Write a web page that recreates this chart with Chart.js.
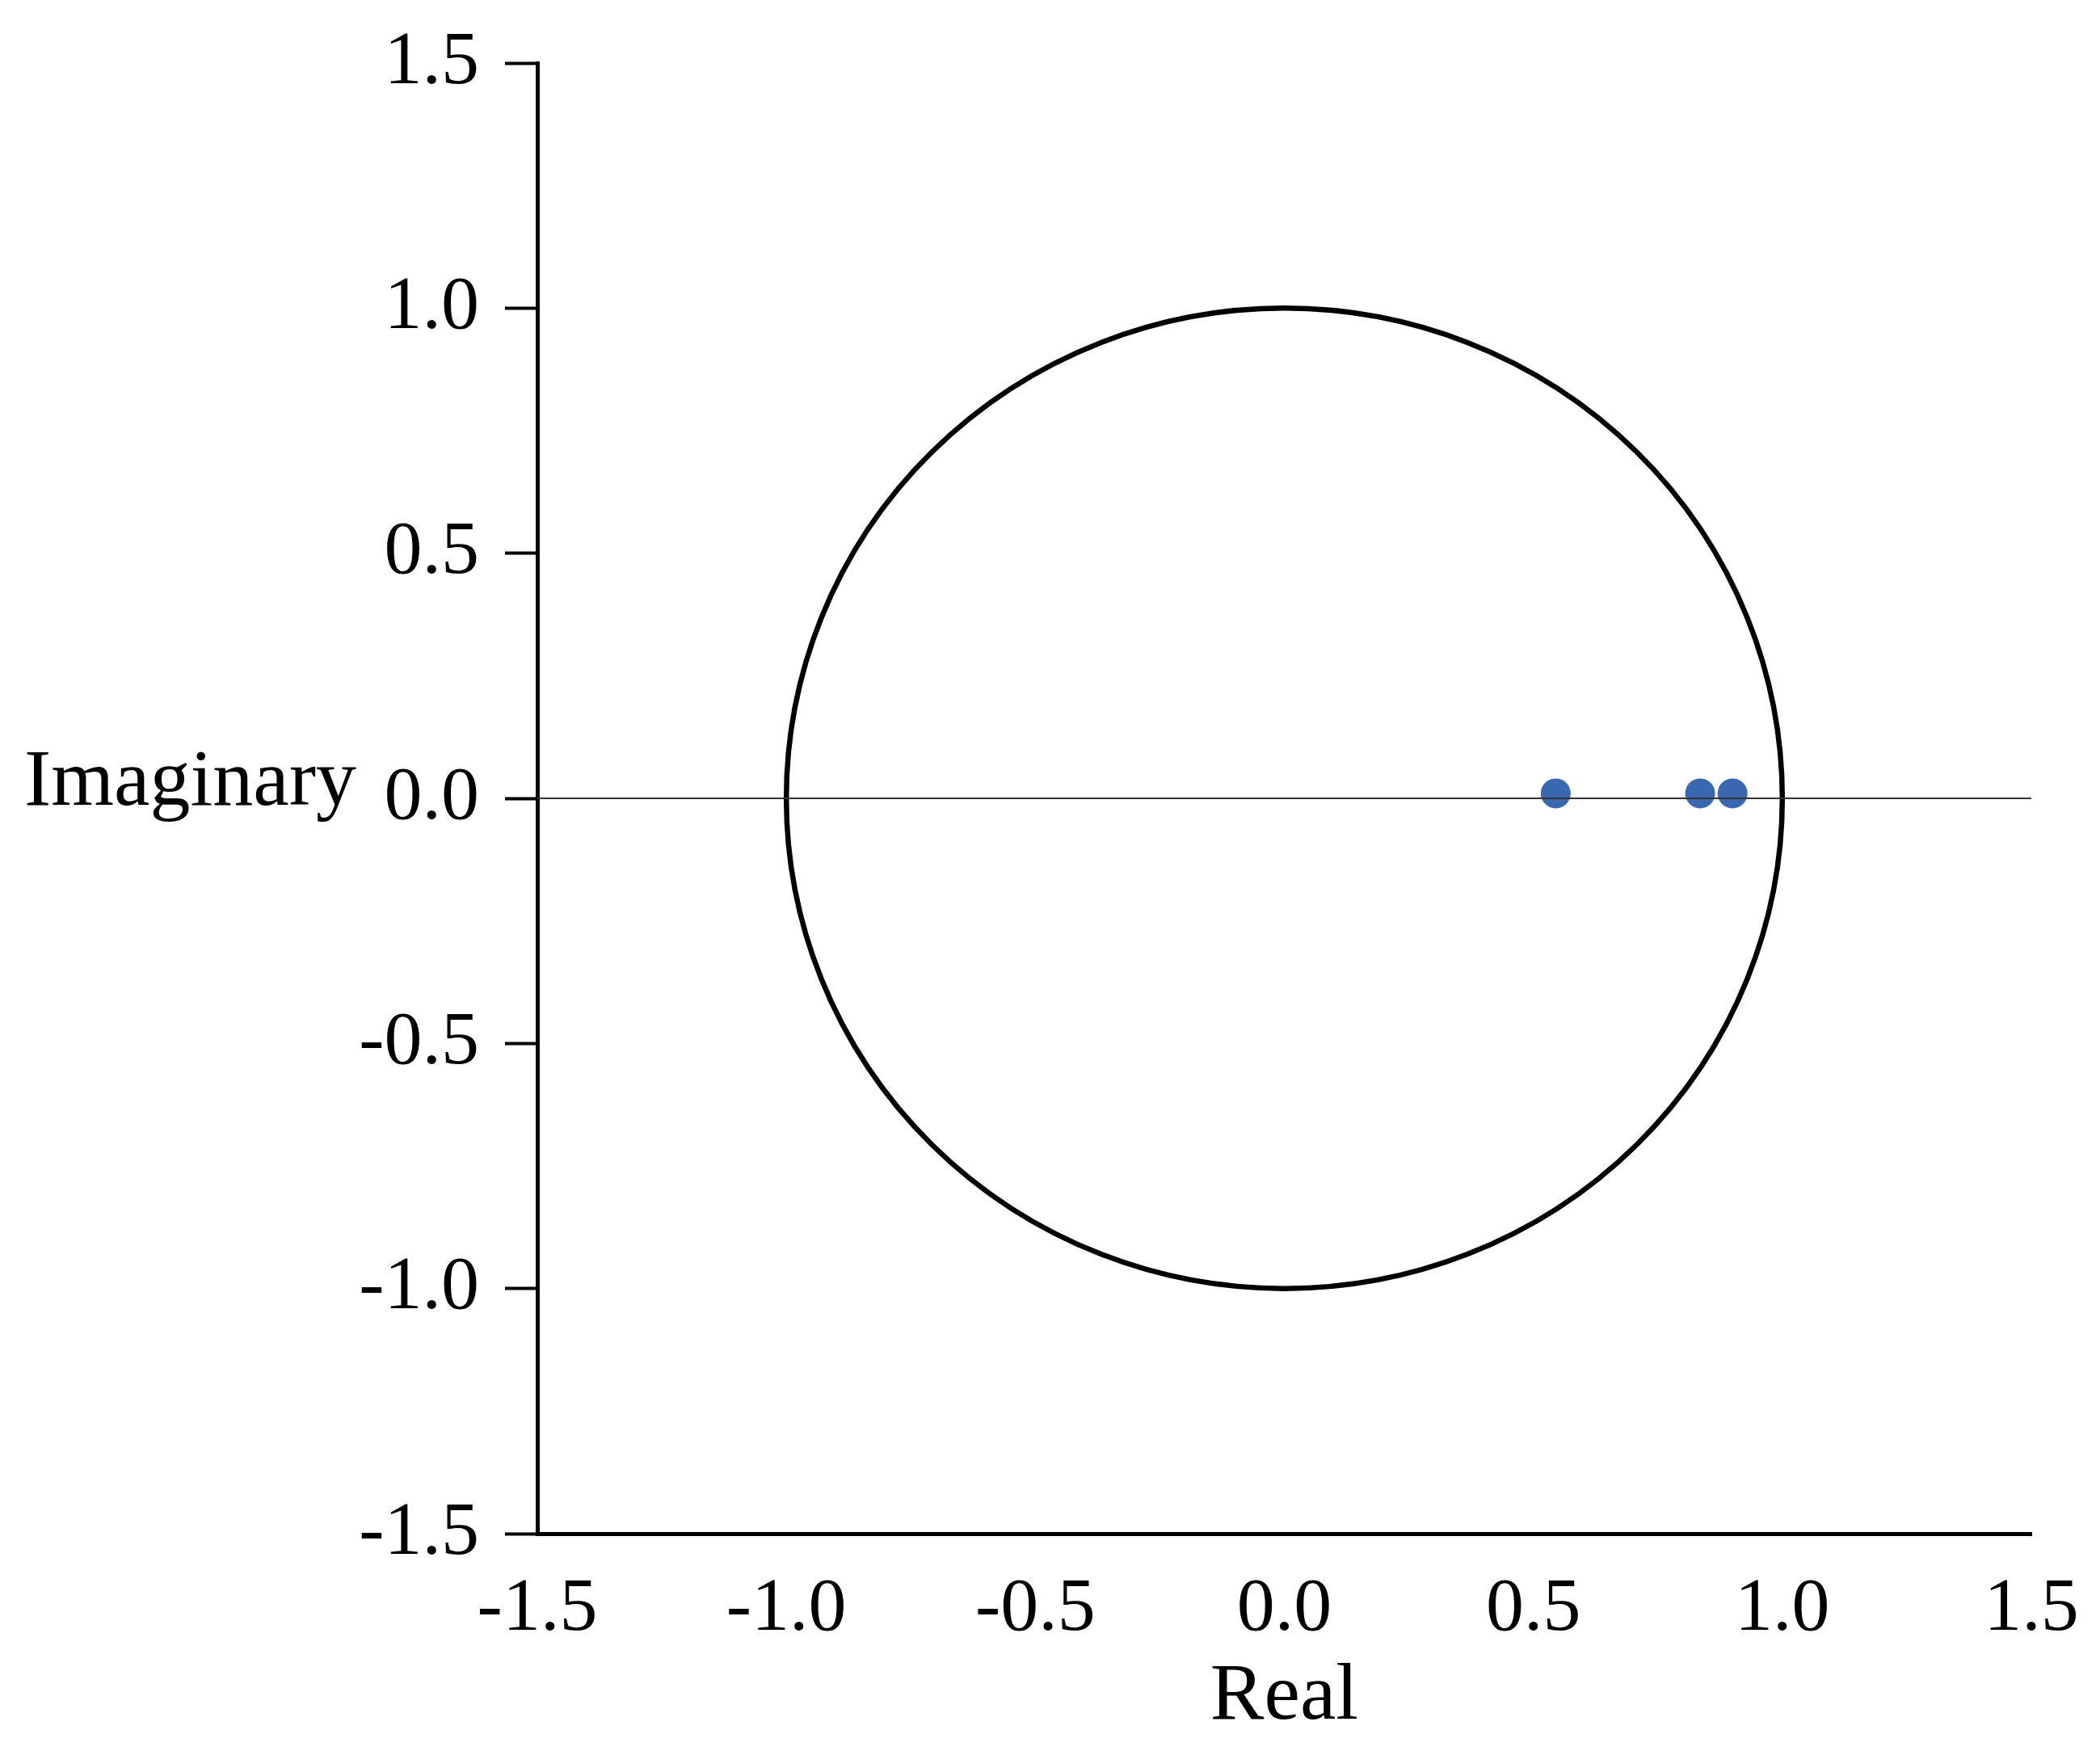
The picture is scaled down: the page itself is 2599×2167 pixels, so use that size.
<!DOCTYPE html>
<html>
<head>
<meta charset="utf-8">
<script src="https://cdn.jsdelivr.net/npm/chart.js@4.4.1/dist/chart.umd.min.js"></script>
<style>
  html, body { margin: 0; padding: 0; background: #ffffff; }
  #wrap { width: 2599px; height: 2167px; }
</style>
</head>
<body>
<div id="wrap"><canvas id="c" width="2599" height="2167"></canvas></div>
<script>
// ---- data ----
const poleReal = [0.545, 0.835, 0.90];
const poleImag = [0.01, 0.01, 0.01];
const axisMin = -1.5;
const axisMax = 1.5;
const tickStep = 0.5;
const unitCircleRadius = 1;
const zeroLineX = [-1.5, 1.5];
const zeroLineY = [0, 0];
const xTitle = 'Real';
const yTitle = 'Imaginary';

const FONT = "'Liberation Serif', 'Times New Roman', serif";

const poles = poleReal.map((x, i) => ({ x: x, y: poleImag[i] }));
const zeroLine = zeroLineX.map((x, i) => ({ x: x, y: zeroLineY[i] }));

const unitCirclePlugin = {
  id: 'unitCircle',
  beforeDatasetsDraw(chart) {
    const xs = chart.scales.x, ys = chart.scales.y;
    const cx = xs.getPixelForValue(0), cy = ys.getPixelForValue(0);
    const rx = Math.abs(xs.getPixelForValue(unitCircleRadius) - cx);
    const ry = Math.abs(ys.getPixelForValue(unitCircleRadius) - cy);
    const ctx = chart.ctx;
    ctx.save();
    ctx.beginPath();
    ctx.ellipse(cx, cy, rx, ry, 0, 0, Math.PI * 2);
    ctx.lineWidth = 6.5;
    ctx.strokeStyle = '#000000';
    ctx.stroke();
    ctx.restore();
  }
};

const yTitlePlugin = {
  id: 'yTitleHorizontal',
  afterDraw(chart) {
    const ys = chart.scales.y;
    const ctx = chart.ctx;
    ctx.save();
    ctx.font = "100px " + FONT;
    ctx.fillStyle = '#000000';
    ctx.textAlign = 'left';
    ctx.textBaseline = 'alphabetic';
    ctx.fillText(yTitle, 30, ys.getPixelForValue(0) + 8);
    ctx.restore();
  }
};

new Chart(document.getElementById('c'), {
  type: 'scatter',
  data: {
    datasets: [
      {
        type: 'line',
        data: zeroLine,
        borderColor: '#333333',
        borderWidth: 2,
        pointRadius: 0,
        fill: false
      },
      {
        data: poles,
        backgroundColor: '#3A68B0',
        borderColor: '#3A68B0',
        pointRadius: 18.5,
        pointHoverRadius: 18.5,
        borderWidth: 0
      }
    ]
  },
  options: {
    responsive: false,
    animation: false,
    devicePixelRatio: 1,
    layout: { padding: { top: 78, right: 85, left: 0, bottom: 6 } },
    plugins: {
      legend: { display: false },
      tooltip: { enabled: false }
    },
    scales: {
      x: {
        type: 'linear',
        min: axisMin,
        max: axisMax,
        grid: { display: false, drawTicks: false, tickLength: 0 },
        border: { display: true, color: '#000000', width: 5 },
        ticks: {
          stepSize: tickStep,
          padding: 38,
          color: '#000000',
          font: { family: FONT, size: 94 },
          callback: v => Number(v).toFixed(1),
          maxRotation: 0
        },
        title: {
          display: true,
          text: xTitle,
          color: '#000000',
          font: { family: FONT, size: 100 },
          padding: { top: 0, bottom: 0 }
        },
        afterFit(scale) {
          scale.height = 263;
          scale.paddingLeft = 0;
          scale.paddingRight = 0;
        }
      },
      y: {
        type: 'linear',
        min: axisMin,
        max: axisMax,
        grid: {
          display: true,
          drawOnChartArea: false,
          drawTicks: true,
          tickLength: 40,
          tickWidth: 4,
          tickColor: '#000000',
          color: '#000000'
        },
        border: { display: true, color: '#000000', width: 5 },
        ticks: {
          stepSize: tickStep,
          padding: 32,
          color: '#000000',
          font: { family: FONT, size: 94 },
          callback: v => Number(v).toFixed(1)
        },
        afterFit(scale) {
          scale.width = 665;
          scale.paddingTop = 0;
          scale.paddingBottom = 0;
        }
      }
    }
  },
  plugins: [unitCirclePlugin, yTitlePlugin]
});
</script>
</body>
</html>
